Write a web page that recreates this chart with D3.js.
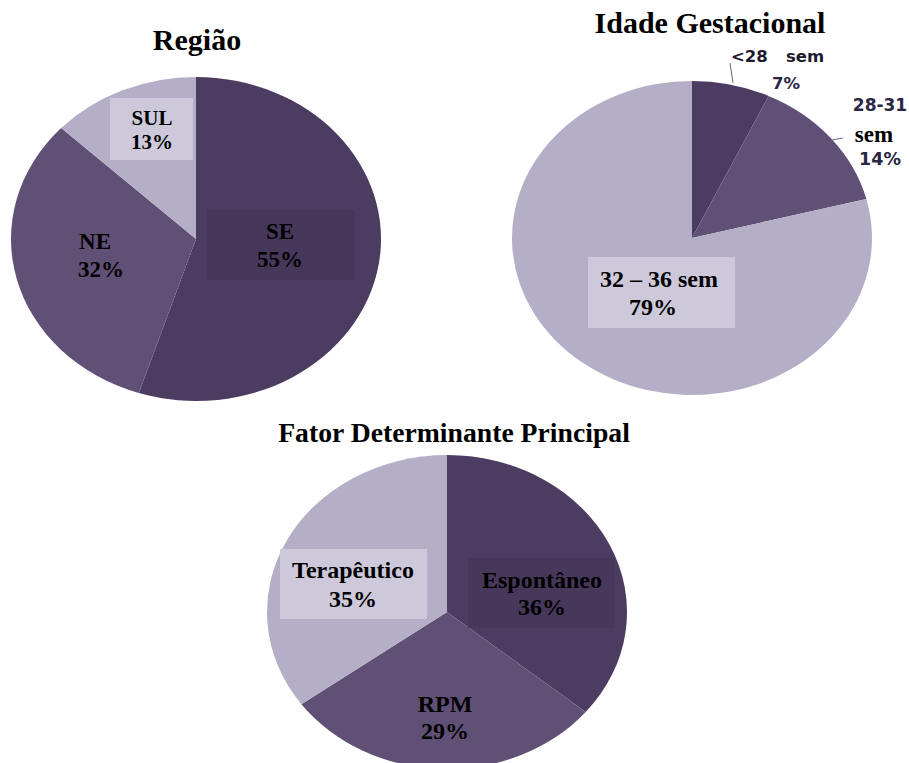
<!DOCTYPE html>
<html><head><meta charset="utf-8">
<script src="https://cdn.jsdelivr.net/npm/d3@7"></script>
<style>html,body{margin:0;padding:0;background:#fff;overflow:hidden}</style>
</head><body>
<svg id="chart" width="909" height="763"></svg>
<script>
// ---- data ----
const regiaoCats = ["SE", "NE", "SUL"];
const regiaoVals = [55, 32, 13];
const idadeCats = ["<28 sem", "28-31 sem", "32 – 36 sem"];
const idadeVals = [7, 14, 79];
const fatorCats = ["Espontâneo", "RPM", "Terapêutico"];
const fatorVals = [36, 29, 35];
const titles = ["Região", "Idade Gestacional", "Fator Determinante Principal"];

// ---- styling / layout ----
const DARK = "#4c3c61", MID = "#605076", LIGHT = "#b5aec7";
const SERIF = "'Liberation Serif','Times New Roman',serif";
const SANS = "'DejaVu Sans',Verdana,sans-serif";
const svg = d3.select("#chart");

function drawPie(cfg) {
  const data = cfg.cats.map((c, i) => ({cat: c, val: cfg.vals[i]}));
  const pie = d3.pie().sort(null).value(d => d.val);
  const arc = d3.arc().innerRadius(0).outerRadius(cfg.rx);
  const g = svg.append("g")
    .attr("transform", `translate(${cfg.cx},${cfg.cy}) scale(1,${cfg.ry / cfg.rx})`);
  g.selectAll("path").data(pie(data)).join("path")
    .attr("d", arc)
    .attr("fill", (d, i) => cfg.colors[i]);
  svg.append("text").attr("x", cfg.tx).attr("y", cfg.ty)
    .attr("text-anchor", "middle").attr("font-family", SERIF)
    .attr("font-weight", "bold").attr("font-size", cfg.tsize).attr("fill", "#000")
    .text(cfg.title);
}

function box(x, y, w, h, fill) {
  svg.append("rect").attr("x", x).attr("y", y).attr("width", w).attr("height", h).attr("fill", fill);
}
function txt(x, y, s, opts = {}) {
  svg.append("text").attr("x", x).attr("y", y)
    .attr("text-anchor", opts.anchor || "middle")
    .attr("font-family", opts.family || SERIF).attr("font-weight", "bold")
    .attr("font-size", opts.size || 24).attr("fill", opts.fill || "#000")
    .text(s);
}

// Pie 1: Região
drawPie({cats: regiaoCats, vals: regiaoVals, colors: [DARK, MID, LIGHT],
  cx: 196, cy: 239, rx: 185, ry: 162, title: titles[0], tx: 197, ty: 50, tsize: 30});
box(110, 98, 83, 62, "#cdc9da");
box(207, 210, 148, 70, "#47385b");
txt(152, 125, regiaoCats[2], {size: 21});
txt(152, 149, regiaoVals[2] + "%", {size: 21});
txt(95, 249, regiaoCats[1], {size: 23});
txt(101, 277, regiaoVals[1] + "%", {size: 23});
txt(280, 239, regiaoCats[0], {size: 23});
txt(280, 267, regiaoVals[0] + "%", {size: 23});

// Pie 2: Idade Gestacional
drawPie({cats: idadeCats, vals: idadeVals, colors: [DARK, MID, LIGHT],
  cx: 692, cy: 238, rx: 180, ry: 157, title: titles[1], tx: 710, ty: 33, tsize: 30});
box(588, 257, 147, 71, "#cdc9da");
txt(659, 287, idadeCats[2], {size: 24});
txt(653, 315, idadeVals[2] + "%", {size: 24});
// leader lines
svg.append("line").attr("x1", 730).attr("y1", 63).attr("x2", 733).attr("y2", 83)
  .attr("stroke", "#6d6480").attr("stroke-width", 1);
svg.append("line").attr("x1", 832).attr("y1", 140).attr("x2", 843).attr("y2", 138)
  .attr("stroke", "#6d6480").attr("stroke-width", 1);
const [c0a, c0b] = idadeCats[0].split(" ");
txt(731, 62, c0a, {family: SANS, size: 16.5, anchor: "start", fill: "#1e1a2e"});
txt(786, 62, c0b, {family: SANS, size: 16.5, anchor: "start", fill: "#1e1a2e"});
txt(786, 89, idadeVals[0] + "%", {family: SANS, size: 16.5, fill: "#2b2645"});
const [c1a, c1b] = idadeCats[1].split(" ");
txt(880, 111, c1a, {family: SANS, size: 17, fill: "#2b2645"});
txt(874, 142, c1b, {size: 23});
txt(880, 165, idadeVals[1] + "%", {family: SANS, size: 17.5, fill: "#2b2645"});

// Pie 3: Fator Determinante Principal
drawPie({cats: fatorCats, vals: fatorVals, colors: [DARK, MID, LIGHT],
  cx: 447, cy: 612, rx: 180, ry: 157, title: titles[2], tx: 454, ty: 442, tsize: 27.7});
box(280, 549, 147, 70, "#cdc9da");
box(468, 558, 147, 70, "#47385b");
txt(353, 578, fatorCats[2], {size: 24});
txt(353, 607, fatorVals[2] + "%", {size: 24});
txt(542, 588, fatorCats[0], {size: 24});
txt(542, 615, fatorVals[0] + "%", {size: 24});
txt(445, 712, fatorCats[1], {size: 24});
txt(445, 739, fatorVals[1] + "%", {size: 24});
</script>
</body></html>
